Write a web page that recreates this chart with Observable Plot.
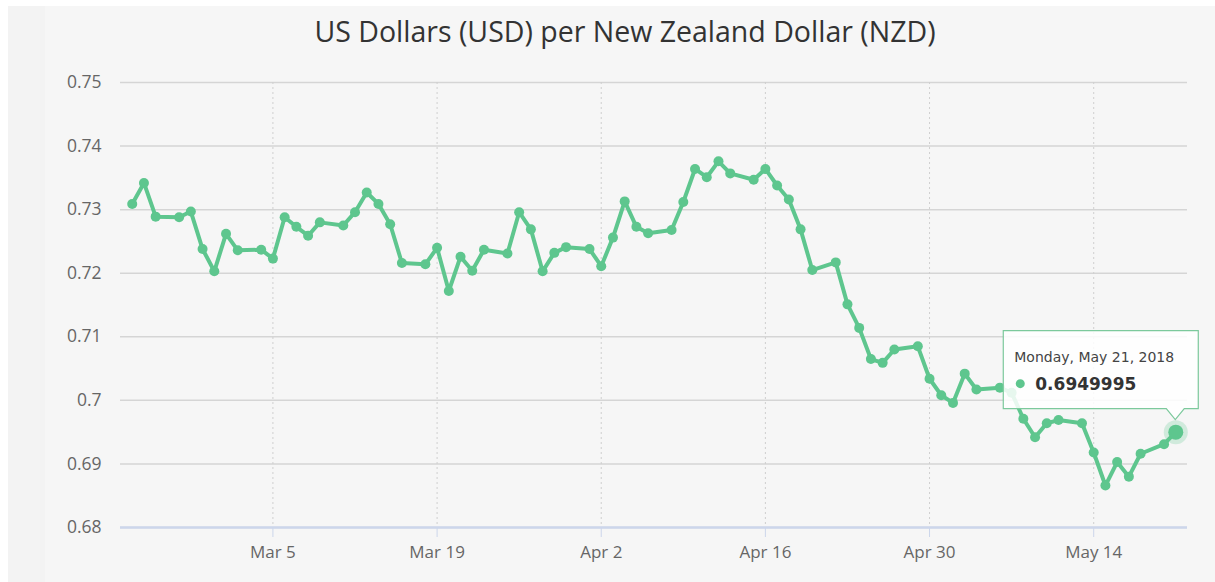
<!DOCTYPE html>
<html>
<head>
<meta charset="utf-8">
<script src="https://cdn.jsdelivr.net/npm/d3@7"></script>
<script src="https://cdn.jsdelivr.net/npm/@observablehq/plot@0.6"></script>
<style>
  html, body { margin: 0; padding: 0; background: #ffffff; }
  #panel {
    position: absolute; left: 8px; top: 6px; width: 1207px; height: 576px;
    background: linear-gradient(to right, #f3f3f3 0px, #f3f3f3 37px, #f6f6f6 37px, #f6f6f6 100%);
  }
  #title {
    position: absolute; left: 25px; top: 12px; width: 1200px; text-align: center;
    font-family: "Open Sans", sans-serif; font-size: 28.5px; color: #333333; font-weight: 400;
  }
  #chart { position: absolute; left: 0; top: 60px; }
</style>
</head>
<body>
<div id="panel"></div>
<div id="title">US Dollars (USD) per New Zealand Dollar (NZD)</div>
<div id="chart"></div>
<script>
const dates = [
  "2018-02-21","2018-02-22","2018-02-23","2018-02-25","2018-02-26","2018-02-27","2018-02-28",
  "2018-03-01","2018-03-02","2018-03-04","2018-03-05","2018-03-06","2018-03-07","2018-03-08","2018-03-09",
  "2018-03-11","2018-03-12","2018-03-13","2018-03-14","2018-03-15","2018-03-16",
  "2018-03-18","2018-03-19","2018-03-20","2018-03-21","2018-03-22","2018-03-23",
  "2018-03-25","2018-03-26","2018-03-27","2018-03-28","2018-03-29","2018-03-30",
  "2018-04-01","2018-04-02","2018-04-03","2018-04-04","2018-04-05","2018-04-06",
  "2018-04-08","2018-04-09","2018-04-10","2018-04-11","2018-04-12","2018-04-13",
  "2018-04-15","2018-04-16","2018-04-17","2018-04-18","2018-04-19","2018-04-20",
  "2018-04-22","2018-04-23","2018-04-24","2018-04-25","2018-04-26","2018-04-27",
  "2018-04-29","2018-04-30","2018-05-01","2018-05-02","2018-05-03","2018-05-04",
  "2018-05-06","2018-05-07","2018-05-08","2018-05-09","2018-05-10","2018-05-11",
  "2018-05-13","2018-05-14","2018-05-15","2018-05-16","2018-05-17","2018-05-18",
  "2018-05-20","2018-05-21"
];
const values = [
  0.7309,0.7342,0.7289,0.7288,0.7297,0.7238,0.7203,
  0.7262,0.7236,0.7237,0.7223,0.7288,0.7273,0.7259,0.7280,
  0.7275,0.7296,0.7327,0.7309,0.7277,0.7216,
  0.7214,0.7240,0.7172,0.7226,0.7204,0.7237,
  0.7231,0.7296,0.7269,0.7203,0.7232,0.7241,
  0.7238,0.7211,0.7256,0.7313,0.7273,0.7263,
  0.7268,0.7312,0.7364,0.7351,0.7376,0.7357,
  0.7347,0.7364,0.7338,0.7316,0.7269,0.7205,
  0.7217,0.7151,0.7114,0.7065,0.7059,0.7080,
  0.7085,0.7034,0.7008,0.6996,0.7042,0.7017,
  0.7020,0.7012,0.6971,0.6942,0.6964,0.6969,
  0.6964,0.6918,0.6866,0.6903,0.6880,0.6916,
  0.6931,0.6949995
];
const xTicks = ["2018-03-05","2018-03-19","2018-04-02","2018-04-16","2018-04-30","2018-05-14"];
const yTicks = [0.68,0.69,0.70,0.71,0.72,0.73,0.74,0.75];
const xDomain = ["2018-02-20","2018-05-22"];
const yDomain = [0.68, 0.75];
const tooltipDate = "Monday, May 21, 2018";
const tooltipValue = "0.6949995";

const green = "#5ec68e";
const data = dates.map((d, i) => ({date: new Date(d), value: values[i]}));
const last = data[data.length - 1];
const xTickDates = xTicks.map(d => new Date(d));
const fmtX = d3.utcFormat("%b %-d");

const plot = Plot.plot({
  width: 1215,
  height: 522,
  marginLeft: 120,
  marginRight: 28,
  marginTop: 22,
  marginBottom: 55,
  style: {background: "transparent", fontFamily: "'Open Sans', sans-serif"},
  x: {type: "utc", domain: xDomain.map(d => new Date(d))},
  y: {domain: yDomain},
  marks: [
    Plot.gridY(yTicks, {stroke: "#d5d5d5", strokeOpacity: 1, strokeWidth: 1.5}),
    Plot.gridX(xTickDates, {stroke: "#cfcfcf", strokeOpacity: 1, strokeDasharray: "2,3"}),
    Plot.ruleY([yDomain[0]], {stroke: "#ccd6eb", strokeWidth: 2.5}),
    Plot.axisY(yTicks, {tickSize: 0, tickPadding: 19, fontSize: 17.5, fill: "#666666",
      tickFormat: d => String(+d.toFixed(2)), label: null}),
    Plot.axisX(xTickDates, {tickSize: 10, stroke: "#ccd6eb", strokeOpacity: 1, tickPadding: 8, fontSize: 17,
      fill: "#666666", tickFormat: fmtX, label: null}),
    Plot.line(data, {x: "date", y: "value", stroke: green, strokeWidth: 4, strokeLinejoin: "round"}),
    Plot.dot(data, {x: "date", y: "value", r: 5, fill: green}),
    Plot.dot([last], {x: "date", y: "value", r: 12, fill: green, fillOpacity: 0.25}),
    Plot.dot([last], {x: "date", y: "value", r: 7.5, fill: green})
  ]
});
document.getElementById("chart").appendChild(plot);

// Tooltip anchored to the last point through the plot's scales
const px = plot.scale("x").apply(last.date);
const py = plot.scale("y").apply(last.value);
const svg = d3.select(plot);
const g = svg.append("g").attr("text-anchor", "start");
const L = px - 172, R = px + 23, T = py - 101, B = py - 23;
g.append("path")
  .attr("d", `M${L},${T}H${R}V${B}H${px + 9}L${px},${py - 12}L${px - 9},${B}H${L}Z`)
  .attr("fill", "rgba(255,255,255,0.85)")
  .attr("stroke", "#7cc99c")
  .attr("stroke-width", 1.2);
g.append("text")
  .attr("x", L + 11).attr("y", T + 31)
  .attr("text-anchor", "start")
  .attr("font-family", "'DejaVu Sans', Verdana, sans-serif")
  .attr("font-size", 14).attr("fill", "#444444")
  .text(tooltipDate);
g.append("circle")
  .attr("cx", L + 17).attr("cy", T + 53).attr("r", 4.5).attr("fill", green);
g.append("text")
  .attr("x", L + 32).attr("y", T + 59)
  .attr("text-anchor", "start")
  .attr("font-family", "'DejaVu Sans', Verdana, sans-serif")
  .attr("font-size", 17).attr("font-weight", "bold").attr("fill", "#333333")
  .text(tooltipValue);
</script>
</body>
</html>
